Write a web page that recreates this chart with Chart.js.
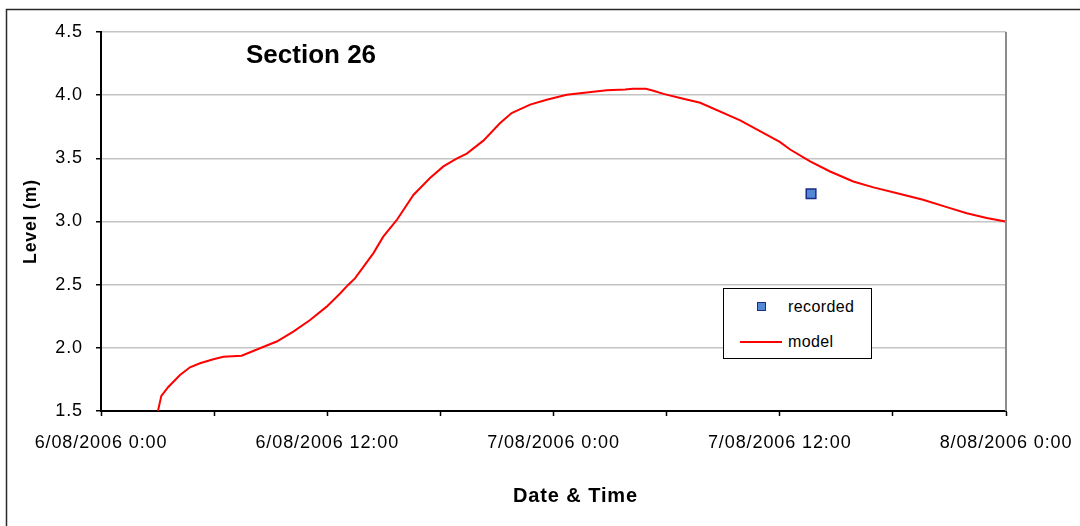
<!DOCTYPE html>
<html>
<head>
<meta charset="utf-8">
<script src="https://cdn.jsdelivr.net/npm/chart.js@4.4.1/dist/chart.umd.min.js"></script>
<style>
  html, body { margin: 0; padding: 0; background: #ffffff; }
  #wrap { position: relative; width: 1080px; height: 526px; overflow: hidden; }
  #chart { display: block; }
  #legend {
    position: absolute; left: 723px; top: 288px; width: 147px; height: 69px;
    border: 1px solid #000; background: #fff;
    font-family: "Liberation Sans", Arial, sans-serif; font-size: 16px; color: #000;
    letter-spacing: 0.4px;
  }
  #legend .row { position: absolute; left: 0; width: 100%; height: 20px; }
  #legend .sym { position: absolute; }
  #legend .txt { position: absolute; left: 64px; top: 1px; }
</style>
</head>
<body>
<div id="wrap">
  <canvas id="chart" width="1080" height="526"></canvas>
  <div id="legend"></div>
</div>
<script>
// Model run: hours after 6/08/2006 0:00 and water level (m)
const modelHours = [
  3.02, 3.2, 3.57, 4.19, 4.72, 5.25, 5.96, 6.49, 7.46, 8.43, 9.32, 10.2, 11.09, 11.97,
  12.68, 13.12, 13.47, 14.45, 14.97, 15.68, 16.57, 17.45, 18.16, 18.86, 19.4, 20.28,
  21.17, 21.78, 22.76, 23.64, 24.7, 25.76, 26.82, 27.8, 28.2, 28.9, 29.3, 29.83, 30.72,
  31.78, 33.9, 36.0, 36.55, 37.61, 38.67, 39.9, 40.97, 42.39, 43.6, 44.86, 45.92, 46.98,
  47.96, 48.0
];
const modelLevels = [
  1.50, 1.62, 1.69, 1.785, 1.846, 1.878, 1.91, 1.93, 1.938, 1.997, 2.05, 2.128, 2.22, 2.326,
  2.43, 2.50, 2.55, 2.75, 2.88, 3.01, 3.21, 3.344, 3.436, 3.497, 3.537, 3.64,
  3.78, 3.859, 3.925, 3.964, 4.004, 4.022, 4.038, 4.044, 4.05, 4.05, 4.035, 4.01, 3.978,
  3.94, 3.80, 3.63, 3.57, 3.476, 3.396, 3.317, 3.27, 3.217, 3.172, 3.114, 3.066, 3.027,
  3.00, 2.995
];

// Gauge reading
const recordedHours = [37.66];
const recordedLevels = [3.22];

// Axis labels
const xTickLabels = ['6/08/2006 0:00', '6/08/2006 12:00', '7/08/2006 0:00', '7/08/2006 12:00', '8/08/2006 0:00'];
const yMin = 1.5, yMax = 4.5, yStep = 0.5;
const xMin = 0, xMax = 48, xMinorStep = 6, xMajorStep = 12;

const FONT = '"Liberation Sans", Arial, sans-serif';

const modelPoints = modelHours.map((h, i) => ({ x: h, y: modelLevels[i] }));
const recordedPoints = recordedHours.map((h, i) => ({ x: h, y: recordedLevels[i] }));

const frame = {
  id: 'frame',
  beforeDraw(chart) {
    const c = chart.ctx;
    // slightly wide lettering for the axis text
    c.letterSpacing = '0.9px';
    c.save();
    c.fillStyle = '#ffffff';
    c.fillRect(0, 0, chart.width, chart.height);
    c.strokeStyle = '#2a2a2a';
    c.lineWidth = 1.5;
    c.strokeRect(6.5, 9.5, chart.width + 20, chart.height + 20);
    c.restore();
  },
  afterDraw(chart) {
    const a = chart.chartArea;
    const c = chart.ctx;
    c.save();
    // right edge of the plot area
    c.strokeStyle = '#8c8c8c';
    c.lineWidth = 2;
    c.beginPath();
    c.moveTo(a.right, a.top);
    c.lineTo(a.right, a.bottom);
    c.stroke();
    // horizontal axis title
    c.fillStyle = '#000';
    c.font = 'bold 20px ' + FONT;
    c.textAlign = 'center';
    c.textBaseline = 'middle';
    c.fillText('Date & Time', (a.left + a.right) / 2 + 22, chart.height - 30);
    // chart heading
    c.letterSpacing = '0px';
    c.font = 'bold 26px ' + FONT;
    c.textAlign = 'left';
    c.textBaseline = 'alphabetic';
    c.fillText('Section 26', a.left + 145, a.top + 31);
    c.restore();
  }
};

const chart = new Chart(document.getElementById('chart'), {
  type: 'scatter',
  data: {
    datasets: [
      {
        label: 'recorded',
        data: recordedPoints,
        pointStyle: 'rect',
        pointRadius: 6.8,
        backgroundColor: '#5288d6',
        borderColor: '#1c2c86',
        borderWidth: 1.5,
        showLine: false,
        order: 0
      },
      {
        label: 'model',
        data: modelPoints,
        showLine: true,
        borderColor: '#ff0000',
        borderWidth: 2,
        pointRadius: 0,
        tension: 0,
        fill: false,
        order: 1
      }
    ]
  },
  options: {
    responsive: false,
    animation: false,
    devicePixelRatio: 1,
    layout: { padding: { top: 32, right: 74, left: 0, bottom: 0 } },
    plugins: {
      legend: { display: false },
      title: { display: false },
      tooltip: { enabled: false }
    },
    scales: {
      x: {
        type: 'linear',
        min: xMin,
        max: xMax,
        afterBuildTicks(scale) {
          const t = [];
          for (let v = xMin; v <= xMax; v += xMinorStep) t.push({ value: v });
          scale.ticks = t;
        },
        afterFit(scale) {
          scale.height = 115;
          scale.paddingLeft = 0;
          scale.paddingRight = 0;
        },
        ticks: {
          autoSkip: false,
          maxRotation: 0,
          padding: 16,
          color: '#000',
          font: { family: FONT, size: 18 },
          callback(v) {
            return v % xMajorStep === 0 ? xTickLabels[v / xMajorStep] : '';
          }
        },
        grid: {
          display: true,
          drawOnChartArea: false,
          drawTicks: true,
          tickLength: 5,
          tickColor: '#000',
          tickWidth: 1.5
        },
        border: { display: true, color: '#000', width: 2 },
        title: { display: false }
      },
      y: {
        type: 'linear',
        min: yMin,
        max: yMax,
        afterBuildTicks(scale) {
          const t = [];
          for (let v = yMin; v <= yMax + 1e-9; v += yStep) t.push({ value: Math.round(v * 10) / 10 });
          scale.ticks = t;
        },
        afterFit(scale) {
          scale.width = 101;
          scale.paddingTop = 0;
          scale.paddingBottom = 0;
        },
        ticks: {
          padding: 13,
          color: '#000',
          font: { family: FONT, size: 18 },
          callback(v) { return Number(v).toFixed(1); }
        },
        grid: {
          color: '#c4c4c4',
          lineWidth: 1.5,
          drawTicks: true,
          tickLength: 5,
          tickColor: '#000',
          tickWidth: 1.5
        },
        border: { display: true, color: '#000', width: 2 },
        title: {
          display: true,
          text: 'Level (m)',
          color: '#000',
          font: { family: FONT, size: 17.5, weight: 'bold' },
          padding: { top: 21, bottom: 0 }
        }
      }
    }
  },
  plugins: [frame]
});

// Legend box built from the dataset styles
(function buildLegend() {
  const box = document.getElementById('legend');
  const rec = chart.data.datasets[0];
  const mod = chart.data.datasets[1];
  const r1 = document.createElement('div');
  r1.className = 'row'; r1.style.top = '8px';
  const sq = document.createElement('div');
  sq.className = 'sym';
  sq.style.cssText = 'left:33px;top:5px;width:7px;height:7px;background:' + rec.backgroundColor +
    ';border:1.5px solid ' + rec.borderColor + ';';
  const t1 = document.createElement('div'); t1.className = 'txt'; t1.textContent = rec.label;
  r1.appendChild(sq); r1.appendChild(t1);
  const r2 = document.createElement('div');
  r2.className = 'row'; r2.style.top = '43px';
  const ln = document.createElement('div');
  ln.className = 'sym';
  ln.style.cssText = 'left:16px;top:9px;width:42px;height:0;border-top:2px solid ' + mod.borderColor + ';';
  const t2 = document.createElement('div'); t2.className = 'txt'; t2.textContent = mod.label;
  r2.appendChild(ln); r2.appendChild(t2);
  box.appendChild(r1); box.appendChild(r2);
})();
</script>
</body>
</html>
